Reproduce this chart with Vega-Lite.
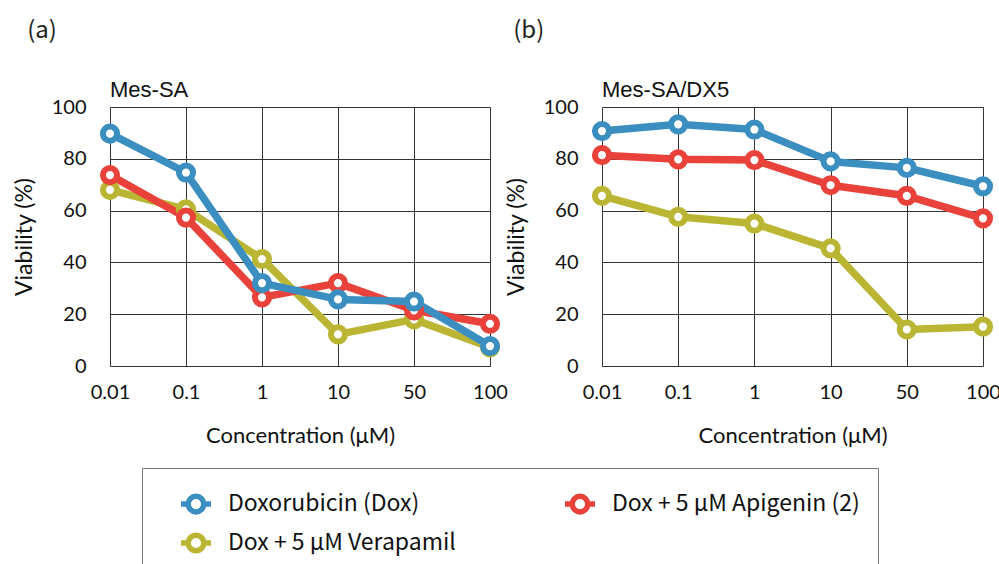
{
  "$schema": "https://vega.github.io/schema/vega-lite/v6.json",
  "background": "white",
  "padding": {"top": 19, "left": 13, "right": 0, "bottom": 0},
  "config": {
    "view": {"stroke": null},
    "axis": {
      "labelFont": "Lato",
      "labelFontSize": 20,
      "labelColor": "#111",
      "titleFont": "Lato",
      "titleFontWeight": "normal",
      "titleColor": "#111",
      "grid": true,
      "gridColor": "#333",
      "gridWidth": 1,
      "domain": false,
      "ticks": false
    },
    "legend": {
      "labelFont": "Noto Sans CJK JP",
      "labelFontSize": 23,
      "labelColor": "#111"
    }
  },
  "datasets": {
    "d": [
      {"cell": "Mes-SA", "series": "Dox + 5 μM Verapamil", "conc": "0.01", "v": 68},
      {"cell": "Mes-SA", "series": "Dox + 5 μM Verapamil", "conc": "0.1", "v": 60.5},
      {"cell": "Mes-SA", "series": "Dox + 5 μM Verapamil", "conc": "1", "v": 41.3},
      {"cell": "Mes-SA", "series": "Dox + 5 μM Verapamil", "conc": "10", "v": 12.2},
      {"cell": "Mes-SA", "series": "Dox + 5 μM Verapamil", "conc": "50", "v": 18},
      {"cell": "Mes-SA", "series": "Dox + 5 μM Verapamil", "conc": "100", "v": 7.2},
      {"cell": "Mes-SA", "series": "Dox + 5 μM Apigenin (2)", "conc": "0.01", "v": 73.7},
      {"cell": "Mes-SA", "series": "Dox + 5 μM Apigenin (2)", "conc": "0.1", "v": 57.3},
      {"cell": "Mes-SA", "series": "Dox + 5 μM Apigenin (2)", "conc": "1", "v": 26.5},
      {"cell": "Mes-SA", "series": "Dox + 5 μM Apigenin (2)", "conc": "10", "v": 32},
      {"cell": "Mes-SA", "series": "Dox + 5 μM Apigenin (2)", "conc": "50", "v": 21.5},
      {"cell": "Mes-SA", "series": "Dox + 5 μM Apigenin (2)", "conc": "100", "v": 16.3},
      {"cell": "Mes-SA", "series": "Doxorubicin (Dox)", "conc": "0.01", "v": 89.7},
      {"cell": "Mes-SA", "series": "Doxorubicin (Dox)", "conc": "0.1", "v": 74.7},
      {"cell": "Mes-SA", "series": "Doxorubicin (Dox)", "conc": "1", "v": 32},
      {"cell": "Mes-SA", "series": "Doxorubicin (Dox)", "conc": "10", "v": 25.7},
      {"cell": "Mes-SA", "series": "Doxorubicin (Dox)", "conc": "50", "v": 24.9},
      {"cell": "Mes-SA", "series": "Doxorubicin (Dox)", "conc": "100", "v": 7.7},
      {"cell": "Mes-SA/DX5", "series": "Dox + 5 μM Verapamil", "conc": "0.01", "v": 65.7},
      {"cell": "Mes-SA/DX5", "series": "Dox + 5 μM Verapamil", "conc": "0.1", "v": 57.6},
      {"cell": "Mes-SA/DX5", "series": "Dox + 5 μM Verapamil", "conc": "1", "v": 55},
      {"cell": "Mes-SA/DX5", "series": "Dox + 5 μM Verapamil", "conc": "10", "v": 45.4},
      {"cell": "Mes-SA/DX5", "series": "Dox + 5 μM Verapamil", "conc": "50", "v": 14.1},
      {"cell": "Mes-SA/DX5", "series": "Dox + 5 μM Verapamil", "conc": "100", "v": 15.2},
      {"cell": "Mes-SA/DX5", "series": "Dox + 5 μM Apigenin (2)", "conc": "0.01", "v": 81.4},
      {"cell": "Mes-SA/DX5", "series": "Dox + 5 μM Apigenin (2)", "conc": "0.1", "v": 79.8},
      {"cell": "Mes-SA/DX5", "series": "Dox + 5 μM Apigenin (2)", "conc": "1", "v": 79.5},
      {"cell": "Mes-SA/DX5", "series": "Dox + 5 μM Apigenin (2)", "conc": "10", "v": 69.8},
      {"cell": "Mes-SA/DX5", "series": "Dox + 5 μM Apigenin (2)", "conc": "50", "v": 65.7},
      {"cell": "Mes-SA/DX5", "series": "Dox + 5 μM Apigenin (2)", "conc": "100", "v": 57},
      {"cell": "Mes-SA/DX5", "series": "Doxorubicin (Dox)", "conc": "0.01", "v": 90.7},
      {"cell": "Mes-SA/DX5", "series": "Doxorubicin (Dox)", "conc": "0.1", "v": 93.3},
      {"cell": "Mes-SA/DX5", "series": "Doxorubicin (Dox)", "conc": "1", "v": 91.3},
      {"cell": "Mes-SA/DX5", "series": "Doxorubicin (Dox)", "conc": "10", "v": 79},
      {"cell": "Mes-SA/DX5", "series": "Doxorubicin (Dox)", "conc": "50", "v": 76.5},
      {"cell": "Mes-SA/DX5", "series": "Doxorubicin (Dox)", "conc": "100", "v": 69.4}
    ]
  },
  "data": {"name": "d"},
  "spacing": -5,
  "resolve": {"scale": {"stroke": "shared"}, "legend": {"stroke": "shared"}},
  "hconcat": [
    {
      "title": {"text": "(a)", "anchor": "start", "frame": "bounds", "dx": 14, "fontSize": 24, "fontWeight": "normal", "font": "Noto Sans CJK JP", "color": "#222", "offset": 36},
      "resolve": {"scale": {"stroke": "shared"}, "legend": {"stroke": "shared"}},
      "vconcat": [
        {
          "title": {"text": "Mes-SA", "anchor": "start", "frame": "group", "fontSize": 22, "fontWeight": "normal", "font": "Liberation Sans", "color": "#111", "offset": -5},
          "width": 380,
          "height": 259,
          "transform": [{"filter": "datum.cell == 'Mes-SA'"}],
          "encoding": {
            "x": {"field": "conc", "type": "ordinal", "sort": ["0.01", "0.1", "1", "10", "50", "100"], "scale": {"type": "point", "padding": 0}, "axis": {"title": "Concentration (μM)", "labelAngle": 0, "labelPadding": 16, "titleFontSize": 22, "titlePadding": 23}},
            "y": {"field": "v", "type": "quantitative", "scale": {"domain": [0, 100]}, "axis": {"title": "Viability (%)", "values": [0, 20, 40, 60, 80, 100], "labelPadding": 24, "titleFontSize": 23, "titlePadding": 15}},
            "stroke": {"field": "series", "type": "nominal", "scale": {"domain": ["Doxorubicin (Dox)", "Dox + 5 μM Apigenin (2)", "Dox + 5 μM Verapamil"], "range": ["#3b8ec0", "#e8423b", "#bab634"]}, "legend": {"title": null, "orient": "none", "legendX": 32, "legendY": 361, "direction": "horizontal", "columns": 2, "columnPadding": 88, "rowPadding": 1, "padding": 18, "symbolOffset": 18, "strokeColor": "#777", "fillColor": "white", "symbolType": "M-1,0H-0.52M0.52,0H1M0.52,0A0.52,0.52,0,1,1,-0.52,0A0.52,0.52,0,1,1,0.52,0Z", "symbolSize": 900, "symbolStrokeWidth": 5.5, "symbolFillColor": "white", "symbolOpacity": 1, "labelOffset": 14, "labelLimit": 400}}
          },
          "layer": [
            {"mark": {"type": "line", "strokeWidth": 7.5, "strokeJoin": "round", "strokeCap": "round"}},
            {"mark": {"type": "point", "filled": false, "fill": "white", "fillOpacity": 1, "size": 200, "strokeWidth": 6, "opacity": 1}}
          ]
        }
      ]
    },
    {
      "title": {"text": "(b)", "anchor": "start", "frame": "bounds", "dx": 8, "fontSize": 24, "fontWeight": "normal", "font": "Noto Sans CJK JP", "color": "#222", "offset": 36},
      "resolve": {"scale": {"stroke": "shared"}, "legend": {"stroke": "shared"}},
      "vconcat": [
        {
          "title": {"text": "Mes-SA/DX5", "anchor": "start", "frame": "group", "fontSize": 22, "fontWeight": "normal", "font": "Liberation Sans", "color": "#111", "offset": -5},
          "width": 381,
          "height": 259,
          "transform": [{"filter": "datum.cell == 'Mes-SA/DX5'"}],
          "encoding": {
            "x": {"field": "conc", "type": "ordinal", "sort": ["0.01", "0.1", "1", "10", "50", "100"], "scale": {"type": "point", "padding": 0}, "axis": {"title": "Concentration (μM)", "labelAngle": 0, "labelPadding": 16, "titleFontSize": 22, "titlePadding": 23}},
            "y": {"field": "v", "type": "quantitative", "scale": {"domain": [0, 100]}, "axis": {"title": "Viability (%)", "values": [0, 20, 40, 60, 80, 100], "labelPadding": 24, "titleFontSize": 23, "titlePadding": 15}},
            "stroke": {"field": "series", "type": "nominal", "scale": {"domain": ["Doxorubicin (Dox)", "Dox + 5 μM Apigenin (2)", "Dox + 5 μM Verapamil"], "range": ["#3b8ec0", "#e8423b", "#bab634"]}}
          },
          "layer": [
            {"mark": {"type": "line", "strokeWidth": 7.5, "strokeJoin": "round", "strokeCap": "round"}},
            {"mark": {"type": "point", "filled": false, "fill": "white", "fillOpacity": 1, "size": 200, "strokeWidth": 6, "opacity": 1}}
          ]
        }
      ]
    }
  ]
}
